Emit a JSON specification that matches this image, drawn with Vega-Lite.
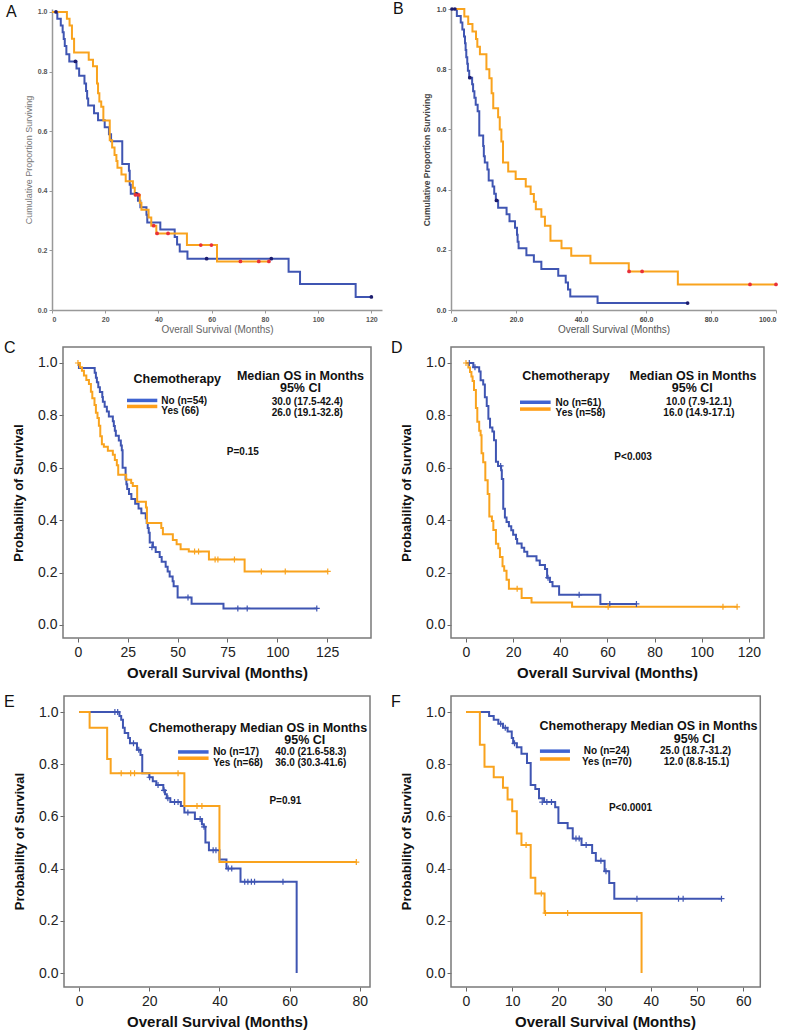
{
  "$schema": "https://vega.github.io/schema/vega-lite/v6.json",
  "padding": {"left": 4, "top": 1, "right": 4, "bottom": 4},
  "background": "white",
  "config": {
    "font": "Liberation Sans",
    "view": {"stroke": null},
    "axis": {"labelFont": "Liberation Sans", "titleFont": "Liberation Sans", "grid": false},
    "title": {"font": "Liberation Sans"}
  },
  "columns": 2,
  "bounds": "flush",
  "align": "each",
  "center": true,
  "spacing": {"row": 37, "column": 69},
  "datasets": {
    "a": [
      {"g":"No","t":0,"s":1},{"g":"No","t":2,"s":0.977},{"g":"No","t":3.3,"s":0.955},{"g":"No","t":4,"s":0.932},{"g":"No","t":4.4,"s":0.909},{"g":"No","t":4.8,"s":0.886},{"g":"No","t":5.4,"s":0.858},{"g":"No","t":6.5,"s":0.834},{"g":"No","t":9.2,"s":0.81},{"g":"No","t":10.2,"s":0.786},{"g":"No","t":12.2,"s":0.76},{"g":"No","t":12.8,"s":0.735},{"g":"No","t":13.2,"s":0.71},{"g":"No","t":13.6,"s":0.686},{"g":"No","t":15.8,"s":0.66},{"g":"No","t":17.3,"s":0.637},{"g":"No","t":19.8,"s":0.613},{"g":"No","t":21.4,"s":0.59},{"g":"No","t":22.2,"s":0.566},{"g":"No","t":26.4,"s":0.49},{"g":"No","t":28.9,"s":0.467},{"g":"No","t":29.2,"s":0.42},{"g":"No","t":29.6,"s":0.39},{"g":"No","t":32.3,"s":0.367},{"g":"No","t":33.2,"s":0.345},{"g":"No","t":35.5,"s":0.32},{"g":"No","t":35.8,"s":0.294},{"g":"No","t":40.7,"s":0.27},{"g":"No","t":46.1,"s":0.245},{"g":"No","t":47,"s":0.22},{"g":"No","t":48,"s":0.196},{"g":"No","t":50.9,"s":0.172},{"g":"No","t":88.9,"s":0.128},{"g":"No","t":93.2,"s":0.087},{"g":"No","t":114.1,"s":0.044},{"g":"No","t":120,"s":0.044},
      {"g":"Yes","t":0,"s":1},{"g":"Yes","t":5.6,"s":0.977},{"g":"Yes","t":6.6,"s":0.955},{"g":"Yes","t":7.5,"s":0.91},{"g":"Yes","t":8.3,"s":0.864},{"g":"Yes","t":13.8,"s":0.84},{"g":"Yes","t":15.4,"s":0.818},{"g":"Yes","t":16.9,"s":0.76},{"g":"Yes","t":17.3,"s":0.727},{"g":"Yes","t":17.8,"s":0.7},{"g":"Yes","t":18.5,"s":0.682},{"g":"Yes","t":19.3,"s":0.636},{"g":"Yes","t":21.7,"s":0.57},{"g":"Yes","t":22.6,"s":0.545},{"g":"Yes","t":23.5,"s":0.52},{"g":"Yes","t":24.2,"s":0.5},{"g":"Yes","t":24.6,"s":0.477},{"g":"Yes","t":26.1,"s":0.455},{"g":"Yes","t":27.7,"s":0.432},{"g":"Yes","t":30.4,"s":0.41},{"g":"Yes","t":31.1,"s":0.386},{"g":"Yes","t":33,"s":0.36},{"g":"Yes","t":33.6,"s":0.336},{"g":"Yes","t":36.3,"s":0.31},{"g":"Yes","t":37.3,"s":0.283},{"g":"Yes","t":39.2,"s":0.257},{"g":"Yes","t":50.7,"s":0.218},{"g":"Yes","t":62,"s":0.163},{"g":"Yes","t":81.5,"s":0.163}
    ],
    "ac": [
      {"g":"No","t":1.5,"s":1},{"g":"No","t":8.8,"s":0.834},{"g":"No","t":31.7,"s":0.39},{"g":"No","t":58.1,"s":0.172},{"g":"No","t":82.4,"s":0.172},{"g":"No","t":120,"s":0.044},
      {"g":"Yes","t":31.4,"s":0.386},{"g":"Yes","t":32.6,"s":0.386},{"g":"Yes","t":38.2,"s":0.283},{"g":"Yes","t":39.5,"s":0.257},{"g":"Yes","t":43.6,"s":0.257},{"g":"Yes","t":55.9,"s":0.218},{"g":"Yes","t":59.9,"s":0.218},{"g":"Yes","t":70.8,"s":0.163},{"g":"Yes","t":77.7,"s":0.163},{"g":"Yes","t":81.5,"s":0.163}
    ],
    "b": [
      {"g":"No","t":0,"s":1},{"g":"No","t":1.8,"s":0.977},{"g":"No","t":3,"s":0.955},{"g":"No","t":3.5,"s":0.932},{"g":"No","t":4,"s":0.909},{"g":"No","t":4.3,"s":0.886},{"g":"No","t":4.5,"s":0.864},{"g":"No","t":4.7,"s":0.84},{"g":"No","t":5,"s":0.818},{"g":"No","t":5.2,"s":0.795},{"g":"No","t":5.6,"s":0.772},{"g":"No","t":6.5,"s":0.75},{"g":"No","t":6.8,"s":0.727},{"g":"No","t":7.2,"s":0.705},{"g":"No","t":7.6,"s":0.682},{"g":"No","t":8.2,"s":0.66},{"g":"No","t":8.7,"s":0.58},{"g":"No","t":9.9,"s":0.545},{"g":"No","t":10.1,"s":0.511},{"g":"No","t":10.4,"s":0.49},{"g":"No","t":11.2,"s":0.467},{"g":"No","t":11.6,"s":0.43},{"g":"No","t":12.8,"s":0.41},{"g":"No","t":13.3,"s":0.386},{"g":"No","t":13.8,"s":0.364},{"g":"No","t":14.5,"s":0.34},{"g":"No","t":17.1,"s":0.318},{"g":"No","t":18,"s":0.295},{"g":"No","t":19.7,"s":0.273},{"g":"No","t":20.3,"s":0.25},{"g":"No","t":20.5,"s":0.227},{"g":"No","t":20.8,"s":0.205},{"g":"No","t":23.2,"s":0.182},{"g":"No","t":25.5,"s":0.16},{"g":"No","t":27.8,"s":0.136},{"g":"No","t":33,"s":0.114},{"g":"No","t":35.3,"s":0.091},{"g":"No","t":36,"s":0.068},{"g":"No","t":36.7,"s":0.045},{"g":"No","t":45.1,"s":0.023},{"g":"No","t":72.8,"s":0.023},
      {"g":"Yes","t":0,"s":1},{"g":"Yes","t":4.1,"s":0.975},{"g":"Yes","t":5.3,"s":0.95},{"g":"Yes","t":6.6,"s":0.925},{"g":"Yes","t":7.7,"s":0.9},{"g":"Yes","t":8.1,"s":0.875},{"g":"Yes","t":8.9,"s":0.85},{"g":"Yes","t":10.9,"s":0.8},{"g":"Yes","t":11.8,"s":0.77},{"g":"Yes","t":12.5,"s":0.72},{"g":"Yes","t":13,"s":0.67},{"g":"Yes","t":14.5,"s":0.64},{"g":"Yes","t":15,"s":0.6},{"g":"Yes","t":15.5,"s":0.56},{"g":"Yes","t":16,"s":0.49},{"g":"Yes","t":17.6,"s":0.46},{"g":"Yes","t":19.9,"s":0.435},{"g":"Yes","t":23,"s":0.41},{"g":"Yes","t":24.5,"s":0.385},{"g":"Yes","t":25.5,"s":0.36},{"g":"Yes","t":26.1,"s":0.335},{"g":"Yes","t":27.8,"s":0.31},{"g":"Yes","t":28.9,"s":0.28},{"g":"Yes","t":30.6,"s":0.23},{"g":"Yes","t":34,"s":0.205},{"g":"Yes","t":37,"s":0.18},{"g":"Yes","t":42.9,"s":0.155},{"g":"Yes","t":54.7,"s":0.128},{"g":"Yes","t":69.8,"s":0.085},{"g":"Yes","t":100,"s":0.085}
    ],
    "bc": [
      {"g":"No","t":0.3,"s":1},{"g":"No","t":1.2,"s":1},{"g":"No","t":5.8,"s":0.772},{"g":"No","t":14,"s":0.364},{"g":"No","t":72.8,"s":0.023},
      {"g":"Yes","t":54.8,"s":0.128},{"g":"Yes","t":58.8,"s":0.128},{"g":"Yes","t":92,"s":0.085},{"g":"Yes","t":100,"s":0.085}
    ],
    "c": [
      {"g":"No","t":0,"s":1},{"g":"No","t":0.5,"s":0.981},{"g":"No","t":8.4,"s":0.963},{"g":"No","t":9,"s":0.944},{"g":"No","t":9.5,"s":0.926},{"g":"No","t":10.2,"s":0.907},{"g":"No","t":11,"s":0.889},{"g":"No","t":12.2,"s":0.87},{"g":"No","t":12.5,"s":0.852},{"g":"No","t":13.4,"s":0.833},{"g":"No","t":14.5,"s":0.815},{"g":"No","t":15.5,"s":0.796},{"g":"No","t":17.5,"s":0.778},{"g":"No","t":18,"s":0.759},{"g":"No","t":18.5,"s":0.741},{"g":"No","t":19,"s":0.722},{"g":"No","t":20.5,"s":0.704},{"g":"No","t":21.5,"s":0.685},{"g":"No","t":22,"s":0.667},{"g":"No","t":22.4,"s":0.6},{"g":"No","t":23.9,"s":0.556},{"g":"No","t":24.3,"s":0.537},{"g":"No","t":24.7,"s":0.519},{"g":"No","t":25.6,"s":0.5},{"g":"No","t":26.8,"s":0.481},{"g":"No","t":28.7,"s":0.463},{"g":"No","t":30.4,"s":0.444},{"g":"No","t":31.8,"s":0.426},{"g":"No","t":34,"s":0.407},{"g":"No","t":34.5,"s":0.389},{"g":"No","t":35,"s":0.37},{"g":"No","t":35.5,"s":0.352},{"g":"No","t":36,"s":0.315},{"g":"No","t":37.6,"s":0.296},{"g":"No","t":39,"s":0.278},{"g":"No","t":41,"s":0.259},{"g":"No","t":42,"s":0.241},{"g":"No","t":44,"s":0.222},{"g":"No","t":45,"s":0.204},{"g":"No","t":46,"s":0.185},{"g":"No","t":47.5,"s":0.167},{"g":"No","t":48,"s":0.148},{"g":"No","t":50,"s":0.105},{"g":"No","t":57,"s":0.081},{"g":"No","t":73,"s":0.063},{"g":"No","t":120,"s":0.063},
      {"g":"Yes","t":0,"s":1},{"g":"Yes","t":1,"s":0.984},{"g":"Yes","t":2,"s":0.97},{"g":"Yes","t":3,"s":0.952},{"g":"Yes","t":4.2,"s":0.935},{"g":"Yes","t":5.5,"s":0.92},{"g":"Yes","t":6.5,"s":0.89},{"g":"Yes","t":7.2,"s":0.865},{"g":"Yes","t":8.3,"s":0.84},{"g":"Yes","t":9,"s":0.81},{"g":"Yes","t":9.8,"s":0.79},{"g":"Yes","t":10.5,"s":0.76},{"g":"Yes","t":11.2,"s":0.72},{"g":"Yes","t":12,"s":0.69},{"g":"Yes","t":13,"s":0.68},{"g":"Yes","t":15,"s":0.665},{"g":"Yes","t":17.5,"s":0.65},{"g":"Yes","t":18.5,"s":0.63},{"g":"Yes","t":19.5,"s":0.61},{"g":"Yes","t":20.2,"s":0.573},{"g":"Yes","t":24.2,"s":0.554},{"g":"Yes","t":26.7,"s":0.542},{"g":"Yes","t":27.5,"s":0.53},{"g":"Yes","t":29.7,"s":0.47},{"g":"Yes","t":34.1,"s":0.448},{"g":"Yes","t":34.6,"s":0.389},{"g":"Yes","t":41.8,"s":0.37},{"g":"Yes","t":42.6,"s":0.346},{"g":"Yes","t":47.6,"s":0.324},{"g":"Yes","t":49.5,"s":0.308},{"g":"Yes","t":51.5,"s":0.289},{"g":"Yes","t":55.6,"s":0.28},{"g":"Yes","t":65.7,"s":0.25},{"g":"Yes","t":83.6,"s":0.204},{"g":"Yes","t":125.3,"s":0.204}
    ],
    "cc": [
      {"g":"No","t":37.1,"s":0.296},{"g":"No","t":55.2,"s":0.105},{"g":"No","t":80.2,"s":0.063},{"g":"No","t":84.9,"s":0.063},{"g":"No","t":119.8,"s":0.063},
      {"g":"Yes","t":0,"s":1},{"g":"Yes","t":58.5,"s":0.28},{"g":"Yes","t":60.5,"s":0.28},{"g":"Yes","t":68.8,"s":0.25},{"g":"Yes","t":70.2,"s":0.25},{"g":"Yes","t":78.5,"s":0.25},{"g":"Yes","t":92,"s":0.204},{"g":"Yes","t":104,"s":0.204},{"g":"Yes","t":125.3,"s":0.204}
    ],
    "d": [
      {"g":"No","t":0,"s":1},{"g":"No","t":3.1,"s":0.984},{"g":"No","t":5.6,"s":0.967},{"g":"No","t":6.2,"s":0.934},{"g":"No","t":7.3,"s":0.918},{"g":"No","t":8,"s":0.869},{"g":"No","t":8.8,"s":0.836},{"g":"No","t":9.5,"s":0.787},{"g":"No","t":10.2,"s":0.754},{"g":"No","t":11.2,"s":0.738},{"g":"No","t":11.9,"s":0.705},{"g":"No","t":12.7,"s":0.623},{"g":"No","t":13.6,"s":0.607},{"g":"No","t":14.9,"s":0.59},{"g":"No","t":15.2,"s":0.557},{"g":"No","t":15.8,"s":0.443},{"g":"No","t":16.5,"s":0.41},{"g":"No","t":17.2,"s":0.393},{"g":"No","t":18.2,"s":0.377},{"g":"No","t":19.2,"s":0.361},{"g":"No","t":20,"s":0.344},{"g":"No","t":21.2,"s":0.328},{"g":"No","t":21.7,"s":0.311},{"g":"No","t":23.6,"s":0.295},{"g":"No","t":24.7,"s":0.279},{"g":"No","t":26,"s":0.262},{"g":"No","t":29.9,"s":0.246},{"g":"No","t":31.3,"s":0.229},{"g":"No","t":33.5,"s":0.213},{"g":"No","t":34.4,"s":0.18},{"g":"No","t":35.6,"s":0.164},{"g":"No","t":36.7,"s":0.148},{"g":"No","t":39.5,"s":0.115},{"g":"No","t":57,"s":0.08},{"g":"No","t":72.3,"s":0.08},
      {"g":"Yes","t":0,"s":1},{"g":"Yes","t":1,"s":0.983},{"g":"Yes","t":1.7,"s":0.966},{"g":"Yes","t":2.3,"s":0.948},{"g":"Yes","t":2.8,"s":0.931},{"g":"Yes","t":3.4,"s":0.897},{"g":"Yes","t":4.2,"s":0.828},{"g":"Yes","t":4.8,"s":0.776},{"g":"Yes","t":5.6,"s":0.741},{"g":"Yes","t":6.2,"s":0.724},{"g":"Yes","t":6.6,"s":0.655},{"g":"Yes","t":7.3,"s":0.621},{"g":"Yes","t":8.2,"s":0.552},{"g":"Yes","t":9.2,"s":0.5},{"g":"Yes","t":9.9,"s":0.414},{"g":"Yes","t":11,"s":0.397},{"g":"Yes","t":11.6,"s":0.362},{"g":"Yes","t":12.7,"s":0.31},{"g":"Yes","t":13.7,"s":0.293},{"g":"Yes","t":14.4,"s":0.259},{"g":"Yes","t":15.5,"s":0.224},{"g":"Yes","t":16.2,"s":0.207},{"g":"Yes","t":17.2,"s":0.172},{"g":"Yes","t":18.2,"s":0.138},{"g":"Yes","t":23.6,"s":0.103},{"g":"Yes","t":27.8,"s":0.086},{"g":"Yes","t":45,"s":0.069},{"g":"Yes","t":115,"s":0.069}
    ],
    "dc": [
      {"g":"No","t":1.4,"s":1},{"g":"No","t":3.8,"s":0.984},{"g":"No","t":14.7,"s":0.607},{"g":"No","t":34.8,"s":0.18},{"g":"No","t":48,"s":0.115},{"g":"No","t":61,"s":0.08},{"g":"No","t":72.3,"s":0.08},
      {"g":"Yes","t":0,"s":1},{"g":"Yes","t":21.7,"s":0.138},{"g":"Yes","t":60.3,"s":0.069},{"g":"Yes","t":109,"s":0.069},{"g":"Yes","t":115,"s":0.069}
    ],
    "e": [
      {"g":"No","t":0,"s":1},{"g":"No","t":11.5,"s":0.985},{"g":"No","t":12,"s":0.97},{"g":"No","t":12.5,"s":0.94},{"g":"No","t":13,"s":0.92},{"g":"No","t":14,"s":0.9},{"g":"No","t":14.5,"s":0.88},{"g":"No","t":16.5,"s":0.855},{"g":"No","t":17.5,"s":0.835},{"g":"No","t":18,"s":0.765},{"g":"No","t":20,"s":0.75},{"g":"No","t":21,"s":0.735},{"g":"No","t":22,"s":0.72},{"g":"No","t":24,"s":0.7},{"g":"No","t":24.5,"s":0.685},{"g":"No","t":25,"s":0.67},{"g":"No","t":26,"s":0.655},{"g":"No","t":29,"s":0.64},{"g":"No","t":30,"s":0.615},{"g":"No","t":33,"s":0.59},{"g":"No","t":35,"s":0.57},{"g":"No","t":35.5,"s":0.56},{"g":"No","t":36,"s":0.5},{"g":"No","t":37,"s":0.47},{"g":"No","t":40,"s":0.435},{"g":"No","t":42,"s":0.4},{"g":"No","t":46,"s":0.35},{"g":"No","t":62,"s":0},
      {"g":"Yes","t":0,"s":1},{"g":"Yes","t":3,"s":0.94},{"g":"Yes","t":8,"s":0.82},{"g":"Yes","t":9,"s":0.765},{"g":"Yes","t":30,"s":0.64},{"g":"Yes","t":40,"s":0.425},{"g":"Yes","t":79,"s":0.425}
    ],
    "ec": [
      {"g":"No","t":10.2,"s":1},{"g":"No","t":11,"s":1},{"g":"No","t":15.5,"s":0.88},{"g":"No","t":17,"s":0.855},{"g":"No","t":20.1,"s":0.75},{"g":"No","t":22.5,"s":0.72},{"g":"No","t":24.2,"s":0.7},{"g":"No","t":25.3,"s":0.67},{"g":"No","t":27.2,"s":0.655},{"g":"No","t":28.2,"s":0.655},{"g":"No","t":31,"s":0.615},{"g":"No","t":34.5,"s":0.59},{"g":"No","t":35.6,"s":0.56},{"g":"No","t":38.2,"s":0.47},{"g":"No","t":39,"s":0.47},{"g":"No","t":42.5,"s":0.4},{"g":"No","t":43.5,"s":0.4},{"g":"No","t":47.2,"s":0.35},{"g":"No","t":48.1,"s":0.35},{"g":"No","t":49.1,"s":0.35},{"g":"No","t":50,"s":0.35},{"g":"No","t":58.1,"s":0.35},
      {"g":"Yes","t":12,"s":0.765},{"g":"Yes","t":14.7,"s":0.765},{"g":"Yes","t":15.8,"s":0.765},{"g":"Yes","t":28.2,"s":0.765},{"g":"Yes","t":33.6,"s":0.64},{"g":"Yes","t":35,"s":0.64},{"g":"Yes","t":79,"s":0.425}
    ],
    "f": [
      {"g":"No","t":0,"s":1},{"g":"No","t":5,"s":0.985},{"g":"No","t":6,"s":0.97},{"g":"No","t":7,"s":0.955},{"g":"No","t":8,"s":0.94},{"g":"No","t":9,"s":0.925},{"g":"No","t":9.9,"s":0.9},{"g":"No","t":10.2,"s":0.88},{"g":"No","t":11,"s":0.865},{"g":"No","t":12,"s":0.84},{"g":"No","t":13.2,"s":0.805},{"g":"No","t":14,"s":0.72},{"g":"No","t":15,"s":0.705},{"g":"No","t":15.8,"s":0.67},{"g":"No","t":16.9,"s":0.655},{"g":"No","t":19.3,"s":0.635},{"g":"No","t":20,"s":0.575},{"g":"No","t":22,"s":0.555},{"g":"No","t":23.1,"s":0.515},{"g":"No","t":25,"s":0.49},{"g":"No","t":27.3,"s":0.46},{"g":"No","t":28.1,"s":0.43},{"g":"No","t":30,"s":0.39},{"g":"No","t":31,"s":0.345},{"g":"No","t":32.1,"s":0.285},{"g":"No","t":55.3,"s":0.285},
      {"g":"Yes","t":0,"s":1},{"g":"Yes","t":3,"s":0.875},{"g":"Yes","t":4,"s":0.79},{"g":"Yes","t":6,"s":0.75},{"g":"Yes","t":8,"s":0.71},{"g":"Yes","t":9,"s":0.665},{"g":"Yes","t":10,"s":0.62},{"g":"Yes","t":11,"s":0.535},{"g":"Yes","t":12,"s":0.49},{"g":"Yes","t":14,"s":0.365},{"g":"Yes","t":15,"s":0.305},{"g":"Yes","t":17,"s":0.23},{"g":"Yes","t":38,"s":0}
    ],
    "fc": [
      {"g":"No","t":7.5,"s":0.955},{"g":"No","t":8.5,"s":0.94},{"g":"No","t":10.5,"s":0.88},{"g":"No","t":16.5,"s":0.655},{"g":"No","t":17.5,"s":0.655},{"g":"No","t":18.5,"s":0.655},{"g":"No","t":23.8,"s":0.515},{"g":"No","t":24.5,"s":0.515},{"g":"No","t":26,"s":0.49},{"g":"No","t":29.2,"s":0.43},{"g":"No","t":30.3,"s":0.39},{"g":"No","t":37,"s":0.285},{"g":"No","t":46,"s":0.285},{"g":"No","t":47,"s":0.285},{"g":"No","t":55.3,"s":0.285},
      {"g":"Yes","t":13,"s":0.49},{"g":"Yes","t":16.3,"s":0.305},{"g":"Yes","t":17.2,"s":0.23},{"g":"Yes","t":22,"s":0.23}
    ],
    "one": [{}]
  },
  "concat": [
    {
      "width": 330, "height": 301,
      "title": {"text": "A", "anchor": "start", "frame": "group", "offset": 0, "baseline": "middle", "dx": -46, "dy": 20, "fontSize": 16, "fontWeight": "normal", "color": "#111"},
      "layer": [
        {
          "data": {"name": "a"},
          "mark": {"type": "line", "interpolate": "step-after", "strokeWidth": 2},
          "encoding": {
            "x": {"field": "t", "type": "quantitative", "scale": {"domain": [0, 124], "nice": false, "zero": false},
              "axis": {"values": [0, 20, 40, 60, 80, 100, 120], "format": "d", "title": "Overall Survival (Months)", "titleFontSize": 10, "titleFontWeight": "normal", "titleColor": "#666", "labelFontSize": 7, "labelFontWeight": "bold", "labelColor": "#555", "domainColor": "#999", "domainWidth": 1.5, "tickColor": "#999", "tickSize": 3, "labelPadding": 2, "titlePadding": 2}},
            "y": {"field": "s", "type": "quantitative", "scale": {"domain": [0, 1.01], "nice": false, "zero": false},
              "axis": {"values": [0, 0.2, 0.4, 0.6, 0.8, 1], "format": ".1f", "title": "Cumulative Proportion Surviving", "titleFontSize": 9, "titleFontWeight": "normal", "titleColor": "#777", "labelFontSize": 7, "labelFontWeight": "bold", "labelColor": "#555", "domainColor": "#999", "domainWidth": 1.5, "tickColor": "#999", "tickSize": 3, "labelPadding": 2, "titlePadding": 4}},
            "stroke": {"field": "g", "type": "nominal", "scale": {"domain": ["No", "Yes"], "range": ["#3F55B2", "#F9A31E"]}, "legend": null}
          }
        },
        {
          "data": {"name": "ac"},
          "mark": {"type": "point", "shape": "circle", "filled": true, "size": 14, "opacity": 1},
          "encoding": {
            "x": {"field": "t", "type": "quantitative"},
            "y": {"field": "s", "type": "quantitative"},
            "fill": {"field": "g", "type": "nominal", "scale": {"domain": ["No", "Yes"], "range": ["#1C1C6E", "#E8303A"]}, "legend": null}
          }
        }
      ]
    },
    {
      "width": 325, "height": 301,
      "title": {"text": "B", "anchor": "start", "frame": "group", "offset": 0, "baseline": "middle", "dx": -58, "dy": 20, "fontSize": 16, "fontWeight": "normal", "color": "#111"},
      "layer": [
        {
          "data": {"name": "b"},
          "mark": {"type": "line", "interpolate": "step-after", "strokeWidth": 2},
          "encoding": {
            "x": {"field": "t", "type": "quantitative", "scale": {"domain": [0, 100], "nice": false, "zero": false},
              "axis": {"values": [0, 20, 40, 60, 80, 100], "labelExpr": "datum.value === 0 ? '.0' : format(datum.value, '.1f')", "title": "Overall Survival (Months)", "titleFontSize": 10, "titleFontWeight": "normal", "titleColor": "#555", "labelFontSize": 7, "labelFontWeight": "bold", "labelColor": "#444", "domainColor": "#999", "domainWidth": 1.5, "tickColor": "#999", "tickSize": 3, "labelPadding": 2, "titlePadding": 2}},
            "y": {"field": "s", "type": "quantitative", "scale": {"domain": [0, 1], "nice": false, "zero": false},
              "axis": {"values": [0, 0.2, 0.4, 0.6, 0.8, 1], "format": ".1f", "title": "Cumulative Proportion Surviving", "titleFontSize": 8.5, "titleFontWeight": "bold", "titleColor": "#444", "labelFontSize": 7, "labelFontWeight": "bold", "labelColor": "#444", "domainColor": "#999", "domainWidth": 1.5, "tickColor": "#999", "tickSize": 3, "labelPadding": 2, "titlePadding": 5}},
            "stroke": {"field": "g", "type": "nominal", "scale": {"domain": ["No", "Yes"], "range": ["#3F55B2", "#F9A31E"]}, "legend": null}
          }
        },
        {
          "data": {"name": "bc"},
          "mark": {"type": "point", "shape": "circle", "filled": true, "size": 14, "opacity": 1},
          "encoding": {
            "x": {"field": "t", "type": "quantitative"},
            "y": {"field": "s", "type": "quantitative"},
            "fill": {"field": "g", "type": "nominal", "scale": {"domain": ["No", "Yes"], "range": ["#1C1C6E", "#C0282F"]}, "legend": null}
          }
        }
      ]
    },
    {
      "width": 308, "height": 291,
      "title": {"text": "C", "anchor": "start", "frame": "group", "offset": 0, "baseline": "middle", "dx": -59, "dy": 18, "fontSize": 16, "fontWeight": "normal", "color": "#111"},
      "layer": [
        {"data": {"name": "one"}, "mark": {"type": "rect", "filled": false, "stroke": "#7a7a7a", "strokeWidth": 1.5}, "encoding": {"x": {"datum": -7.5}, "x2": {"datum": 147}, "y": {"datum": -0.05}, "y2": {"datum": 1.061}}},
        {
          "data": {"name": "c"},
          "mark": {"type": "line", "interpolate": "step-after", "strokeWidth": 2},
          "encoding": {
            "x": {"field": "t", "type": "quantitative", "scale": {"domain": [-7.5, 147], "nice": false, "zero": false},
              "axis": {"values": [0, 25, 50, 75, 100, 125], "format": "d", "title": "Overall Survival (Months)", "titleFontSize": 15, "titleFontWeight": "bold", "titleColor": "#111", "labelFontSize": 14, "labelColor": "#222", "domain": false, "tickColor": "#666", "tickSize": 4, "labelPadding": 3, "titlePadding": 6}},
            "y": {"field": "s", "type": "quantitative", "scale": {"domain": [-0.05, 1.061], "nice": false, "zero": false},
              "axis": {"values": [0, 0.2, 0.4, 0.6, 0.8, 1], "format": ".1f", "title": "Probability of Survival", "titleFontSize": 13, "titleFontWeight": "bold", "titleColor": "#111", "labelFontSize": 14, "labelColor": "#222", "domain": false, "tickColor": "#666", "tickSize": 4, "labelPadding": 2, "titlePadding": 12}},
            "stroke": {"field": "g", "type": "nominal", "scale": {"domain": ["No", "Yes"], "range": ["#3F63D0", "#FF9F1A"]}, "legend": null}
          }
        },
        {
          "data": {"name": "cc"},
          "mark": {"type": "point", "shape": "M-1,0L1,0M0,-1L0,1", "filled": false, "size": 36, "strokeWidth": 1.2, "opacity": 1},
          "encoding": {"x": {"field": "t", "type": "quantitative"}, "y": {"field": "s", "type": "quantitative"}, "stroke": {"field": "g", "type": "nominal", "legend": null}}
        },
        {"data": {"name": "one"}, "mark": {"type": "text", "text": "Chemotherapy", "fontSize": 12.5, "fontWeight": "bold", "align": "center", "baseline": "middle", "color": "#111"}, "encoding": {"x": {"datum": 49.8}, "y": {"datum": 0.939}}},
        {"data": {"name": "one"}, "mark": {"type": "text", "text": "Median OS in Months", "fontSize": 12.5, "fontWeight": "bold", "align": "center", "baseline": "middle", "color": "#111"}, "encoding": {"x": {"datum": 111.6}, "y": {"datum": 0.95}}},
        {"data": {"name": "one"}, "mark": {"type": "text", "text": "95% CI", "fontSize": 12.5, "fontWeight": "bold", "align": "center", "baseline": "middle", "color": "#111"}, "encoding": {"x": {"datum": 111.6}, "y": {"datum": 0.903}}},
        {"data": {"name": "one"}, "mark": {"type": "rule", "color": "#3F63D0", "strokeWidth": 3.5}, "encoding": {"x": {"datum": 24.6}, "x2": {"datum": 39.8}, "y": {"datum": 0.857}}},
        {"data": {"name": "one"}, "mark": {"type": "rule", "color": "#FF9F1A", "strokeWidth": 3.5}, "encoding": {"x": {"datum": 24.6}, "x2": {"datum": 39.8}, "y": {"datum": 0.834}}},
        {"data": {"name": "one"}, "mark": {"type": "text", "text": "No (n=54)", "fontSize": 10, "fontWeight": "bold", "align": "left", "baseline": "middle", "color": "#111"}, "encoding": {"x": {"datum": 41.8}, "y": {"datum": 0.856}}},
        {"data": {"name": "one"}, "mark": {"type": "text", "text": "Yes (66)", "fontSize": 10, "fontWeight": "bold", "align": "left", "baseline": "middle", "color": "#111"}, "encoding": {"x": {"datum": 41.8}, "y": {"datum": 0.817}}},
        {"data": {"name": "one"}, "mark": {"type": "text", "text": "30.0 (17.5-42.4)", "fontSize": 10, "fontWeight": "bold", "align": "center", "baseline": "middle", "color": "#111"}, "encoding": {"x": {"datum": 115}, "y": {"datum": 0.851}}},
        {"data": {"name": "one"}, "mark": {"type": "text", "text": "26.0 (19.1-32.8)", "fontSize": 10, "fontWeight": "bold", "align": "center", "baseline": "middle", "color": "#111"}, "encoding": {"x": {"datum": 115}, "y": {"datum": 0.81}}},
        {"data": {"name": "one"}, "mark": {"type": "text", "text": "P=0.15", "fontSize": 10, "fontWeight": "bold", "align": "center", "baseline": "middle", "color": "#111"}, "encoding": {"x": {"datum": 82.7}, "y": {"datum": 0.662}}}
      ]
    },
    {
      "width": 325, "height": 291,
      "title": {"text": "D", "anchor": "start", "frame": "group", "offset": 0, "baseline": "middle", "dx": -60, "dy": 18, "fontSize": 16, "fontWeight": "normal", "color": "#111"},
      "layer": [
        {"data": {"name": "one"}, "mark": {"type": "rect", "filled": false, "stroke": "#7a7a7a", "strokeWidth": 1.5}, "encoding": {"x": {"datum": -6.36}, "x2": {"datum": 126.4}, "y": {"datum": -0.05}, "y2": {"datum": 1.061}}},
        {
          "data": {"name": "d"},
          "mark": {"type": "line", "interpolate": "step-after", "strokeWidth": 2},
          "encoding": {
            "x": {"field": "t", "type": "quantitative", "scale": {"domain": [-6.36, 131.5], "nice": false, "zero": false},
              "axis": {"values": [0, 20, 40, 60, 80, 100, 120], "format": "d", "title": "Overall Survival (Months)", "titleX": 156, "titleFontSize": 15, "titleFontWeight": "bold", "titleColor": "#111", "labelFontSize": 14, "labelColor": "#222", "domain": false, "tickColor": "#666", "tickSize": 4, "labelPadding": 3, "titlePadding": 6}},
            "y": {"field": "s", "type": "quantitative", "scale": {"domain": [-0.05, 1.061], "nice": false, "zero": false},
              "axis": {"values": [0, 0.2, 0.4, 0.6, 0.8, 1], "format": ".1f", "title": "Probability of Survival", "titleFontSize": 13, "titleFontWeight": "bold", "titleColor": "#111", "labelFontSize": 14, "labelColor": "#222", "domain": false, "tickColor": "#666", "tickSize": 4, "labelPadding": 2, "titlePadding": 12}},
            "stroke": {"field": "g", "type": "nominal", "scale": {"domain": ["No", "Yes"], "range": ["#3F63D0", "#FF9F1A"]}, "legend": null}
          }
        },
        {
          "data": {"name": "dc"},
          "mark": {"type": "point", "shape": "M-1,0L1,0M0,-1L0,1", "filled": false, "size": 36, "strokeWidth": 1.2, "opacity": 1},
          "encoding": {"x": {"field": "t", "type": "quantitative"}, "y": {"field": "s", "type": "quantitative"}, "stroke": {"field": "g", "type": "nominal", "legend": null}}
        },
        {"data": {"name": "one"}, "mark": {"type": "text", "text": "Chemotherapy", "fontSize": 12.5, "fontWeight": "bold", "align": "center", "baseline": "middle", "color": "#111"}, "encoding": {"x": {"datum": 42.4}, "y": {"datum": 0.95}}},
        {"data": {"name": "one"}, "mark": {"type": "text", "text": "Median OS in Months", "fontSize": 12.5, "fontWeight": "bold", "align": "center", "baseline": "middle", "color": "#111"}, "encoding": {"x": {"datum": 96.3}, "y": {"datum": 0.952}}},
        {"data": {"name": "one"}, "mark": {"type": "text", "text": "95% CI", "fontSize": 12.5, "fontWeight": "bold", "align": "center", "baseline": "middle", "color": "#111"}, "encoding": {"x": {"datum": 96}, "y": {"datum": 0.906}}},
        {"data": {"name": "one"}, "mark": {"type": "rule", "color": "#3F63D0", "strokeWidth": 3.5}, "encoding": {"x": {"datum": 22.9}, "x2": {"datum": 35.9}, "y": {"datum": 0.85}}},
        {"data": {"name": "one"}, "mark": {"type": "rule", "color": "#FF9F1A", "strokeWidth": 3.5}, "encoding": {"x": {"datum": 22.9}, "x2": {"datum": 35.9}, "y": {"datum": 0.824}}},
        {"data": {"name": "one"}, "mark": {"type": "text", "text": "No (n=61)", "fontSize": 10, "fontWeight": "bold", "align": "left", "baseline": "middle", "color": "#111"}, "encoding": {"x": {"datum": 38}, "y": {"datum": 0.848}}},
        {"data": {"name": "one"}, "mark": {"type": "text", "text": "Yes (n=58)", "fontSize": 10, "fontWeight": "bold", "align": "left", "baseline": "middle", "color": "#111"}, "encoding": {"x": {"datum": 38}, "y": {"datum": 0.809}}},
        {"data": {"name": "one"}, "mark": {"type": "text", "text": "10.0 (7.9-12.1)", "fontSize": 10, "fontWeight": "bold", "align": "center", "baseline": "middle", "color": "#111"}, "encoding": {"x": {"datum": 98.8}, "y": {"datum": 0.851}}},
        {"data": {"name": "one"}, "mark": {"type": "text", "text": "16.0 (14.9-17.1)", "fontSize": 10, "fontWeight": "bold", "align": "center", "baseline": "middle", "color": "#111"}, "encoding": {"x": {"datum": 98.8}, "y": {"datum": 0.809}}},
        {"data": {"name": "one"}, "mark": {"type": "text", "text": "P<0.003", "fontSize": 10, "fontWeight": "bold", "align": "center", "baseline": "middle", "color": "#111"}, "encoding": {"x": {"datum": 70.9}, "y": {"datum": 0.64}}}
      ]
    },
    {
      "width": 306, "height": 312,
      "title": {"text": "E", "anchor": "start", "frame": "group", "offset": 0, "baseline": "middle", "dx": -60, "dy": 43, "fontSize": 16, "fontWeight": "normal", "color": "#111"},
      "layer": [
        {"data": {"name": "one"}, "mark": {"type": "rect", "filled": false, "stroke": "#7a7a7a", "strokeWidth": 1.5}, "encoding": {"x": {"datum": -4.3}, "x2": {"datum": 82.9}, "y": {"datum": -0.0536}, "y2": {"datum": 1.061}}},
        {
          "data": {"name": "e"},
          "mark": {"type": "line", "interpolate": "step-after", "strokeWidth": 2},
          "encoding": {
            "x": {"field": "t", "type": "quantitative", "scale": {"domain": [-4.3, 82.9], "nice": false, "zero": false},
              "axis": {"values": [0, 20, 40, 60, 80], "format": "d", "title": "Overall Survival (Months)", "titleFontSize": 15, "titleFontWeight": "bold", "titleColor": "#111", "labelFontSize": 14, "labelColor": "#222", "domain": false, "tickColor": "#666", "tickSize": 4, "labelPadding": 3, "titlePadding": 6}},
            "y": {"field": "s", "type": "quantitative", "scale": {"domain": [-0.0536, 1.1418], "nice": false, "zero": false},
              "axis": {"values": [0, 0.2, 0.4, 0.6, 0.8, 1], "format": ".1f", "title": "Probability of Survival", "titleY": 166, "titleFontSize": 13, "titleFontWeight": "bold", "titleColor": "#111", "labelFontSize": 14, "labelColor": "#222", "domain": false, "tickColor": "#666", "tickSize": 4, "labelPadding": 2, "titlePadding": 12}},
            "stroke": {"field": "g", "type": "nominal", "scale": {"domain": ["No", "Yes"], "range": ["#3F63D0", "#FF9F1A"]}, "legend": null}
          }
        },
        {
          "data": {"name": "ec"},
          "mark": {"type": "point", "shape": "M-1,0L1,0M0,-1L0,1", "filled": false, "size": 36, "strokeWidth": 1.2, "opacity": 1},
          "encoding": {"x": {"field": "t", "type": "quantitative"}, "y": {"field": "s", "type": "quantitative"}, "stroke": {"field": "g", "type": "nominal", "legend": null}}
        },
        {"data": {"name": "one"}, "mark": {"type": "text", "text": "Chemotherapy Median OS in Months", "fontSize": 12.5, "fontWeight": "bold", "align": "center", "baseline": "middle", "color": "#111"}, "encoding": {"x": {"datum": 51}, "y": {"datum": 0.94}}},
        {"data": {"name": "one"}, "mark": {"type": "text", "text": "95% CI", "fontSize": 12.5, "fontWeight": "bold", "align": "center", "baseline": "middle", "color": "#111"}, "encoding": {"x": {"datum": 64.3}, "y": {"datum": 0.891}}},
        {"data": {"name": "one"}, "mark": {"type": "rule", "color": "#3F63D0", "strokeWidth": 3.5}, "encoding": {"x": {"datum": 28.2}, "x2": {"datum": 36.9}, "y": {"datum": 0.847}}},
        {"data": {"name": "one"}, "mark": {"type": "rule", "color": "#FF9F1A", "strokeWidth": 3.5}, "encoding": {"x": {"datum": 28.2}, "x2": {"datum": 36.9}, "y": {"datum": 0.823}}},
        {"data": {"name": "one"}, "mark": {"type": "text", "text": "No (n=17)", "fontSize": 10, "fontWeight": "bold", "align": "left", "baseline": "middle", "color": "#111"}, "encoding": {"x": {"datum": 38.2}, "y": {"datum": 0.846}}},
        {"data": {"name": "one"}, "mark": {"type": "text", "text": "Yes (n=68)", "fontSize": 10, "fontWeight": "bold", "align": "left", "baseline": "middle", "color": "#111"}, "encoding": {"x": {"datum": 38.2}, "y": {"datum": 0.806}}},
        {"data": {"name": "one"}, "mark": {"type": "text", "text": "40.0 (21.6-58.3)", "fontSize": 10, "fontWeight": "bold", "align": "left", "baseline": "middle", "color": "#111"}, "encoding": {"x": {"datum": 55.9}, "y": {"datum": 0.846}}},
        {"data": {"name": "one"}, "mark": {"type": "text", "text": "36.0 (30.3-41.6)", "fontSize": 10, "fontWeight": "bold", "align": "left", "baseline": "middle", "color": "#111"}, "encoding": {"x": {"datum": 55.9}, "y": {"datum": 0.806}}},
        {"data": {"name": "one"}, "mark": {"type": "text", "text": "P=0.91", "fontSize": 10, "fontWeight": "bold", "align": "center", "baseline": "middle", "color": "#111"}, "encoding": {"x": {"datum": 58.8}, "y": {"datum": 0.658}}}
      ]
    },
    {
      "width": 325, "height": 312,
      "title": {"text": "F", "anchor": "start", "frame": "group", "offset": 0, "baseline": "middle", "dx": -60, "dy": 43, "fontSize": 16, "fontWeight": "normal", "color": "#111"},
      "layer": [
        {"data": {"name": "one"}, "mark": {"type": "rect", "filled": false, "stroke": "#7a7a7a", "strokeWidth": 1.5}, "encoding": {"x": {"datum": -3.25}, "x2": {"datum": 63.7}, "y": {"datum": -0.0536}, "y2": {"datum": 1.061}}},
        {
          "data": {"name": "f"},
          "mark": {"type": "line", "interpolate": "step-after", "strokeWidth": 2},
          "encoding": {
            "x": {"field": "t", "type": "quantitative", "scale": {"domain": [-3.25, 67.1], "nice": false, "zero": false},
              "axis": {"values": [0, 10, 20, 30, 40, 50, 60], "format": "d", "title": "Overall Survival (Months)", "titleX": 154, "titleFontSize": 15, "titleFontWeight": "bold", "titleColor": "#111", "labelFontSize": 14, "labelColor": "#222", "domain": false, "tickColor": "#666", "tickSize": 4, "labelPadding": 3, "titlePadding": 6}},
            "y": {"field": "s", "type": "quantitative", "scale": {"domain": [-0.0536, 1.1418], "nice": false, "zero": false},
              "axis": {"values": [0, 0.2, 0.4, 0.6, 0.8, 1], "format": ".1f", "title": "Probability of Survival", "titleY": 166, "titleFontSize": 13, "titleFontWeight": "bold", "titleColor": "#111", "labelFontSize": 14, "labelColor": "#222", "domain": false, "tickColor": "#666", "tickSize": 4, "labelPadding": 2, "titlePadding": 12}},
            "stroke": {"field": "g", "type": "nominal", "scale": {"domain": ["No", "Yes"], "range": ["#3F63D0", "#FF9F1A"]}, "legend": null}
          }
        },
        {
          "data": {"name": "fc"},
          "mark": {"type": "point", "shape": "M-1,0L1,0M0,-1L0,1", "filled": false, "size": 36, "strokeWidth": 1.2, "opacity": 1},
          "encoding": {"x": {"field": "t", "type": "quantitative"}, "y": {"field": "s", "type": "quantitative"}, "stroke": {"field": "g", "type": "nominal", "legend": null}}
        },
        {"data": {"name": "one"}, "mark": {"type": "text", "text": "Chemotherapy Median OS in Months", "fontSize": 12.5, "fontWeight": "bold", "align": "center", "baseline": "middle", "color": "#111"}, "encoding": {"x": {"datum": 39.5}, "y": {"datum": 0.947}}},
        {"data": {"name": "one"}, "mark": {"type": "text", "text": "95% CI", "fontSize": 12.5, "fontWeight": "bold", "align": "center", "baseline": "middle", "color": "#111"}, "encoding": {"x": {"datum": 49.4}, "y": {"datum": 0.898}}},
        {"data": {"name": "one"}, "mark": {"type": "rule", "color": "#3F63D0", "strokeWidth": 3.5}, "encoding": {"x": {"datum": 16}, "x2": {"datum": 22.5}, "y": {"datum": 0.85}}},
        {"data": {"name": "one"}, "mark": {"type": "rule", "color": "#FF9F1A", "strokeWidth": 3.5}, "encoding": {"x": {"datum": 16}, "x2": {"datum": 22.5}, "y": {"datum": 0.82}}},
        {"data": {"name": "one"}, "mark": {"type": "text", "text": "No (n=24)", "fontSize": 10, "fontWeight": "bold", "align": "left", "baseline": "middle", "color": "#111"}, "encoding": {"x": {"datum": 25.5}, "y": {"datum": 0.852}}},
        {"data": {"name": "one"}, "mark": {"type": "text", "text": "Yes (n=70)", "fontSize": 10, "fontWeight": "bold", "align": "left", "baseline": "middle", "color": "#111"}, "encoding": {"x": {"datum": 25.1}, "y": {"datum": 0.809}}},
        {"data": {"name": "one"}, "mark": {"type": "text", "text": "25.0 (18.7-31.2)", "fontSize": 10, "fontWeight": "bold", "align": "left", "baseline": "middle", "color": "#111"}, "encoding": {"x": {"datum": 42}, "y": {"datum": 0.85}}},
        {"data": {"name": "one"}, "mark": {"type": "text", "text": "12.0 (8.8-15.1)", "fontSize": 10, "fontWeight": "bold", "align": "left", "baseline": "middle", "color": "#111"}, "encoding": {"x": {"datum": 42.8}, "y": {"datum": 0.807}}},
        {"data": {"name": "one"}, "mark": {"type": "text", "text": "P<0.0001", "fontSize": 10, "fontWeight": "bold", "align": "center", "baseline": "middle", "color": "#111"}, "encoding": {"x": {"datum": 35.6}, "y": {"datum": 0.634}}}
      ]
    }
  ]
}
